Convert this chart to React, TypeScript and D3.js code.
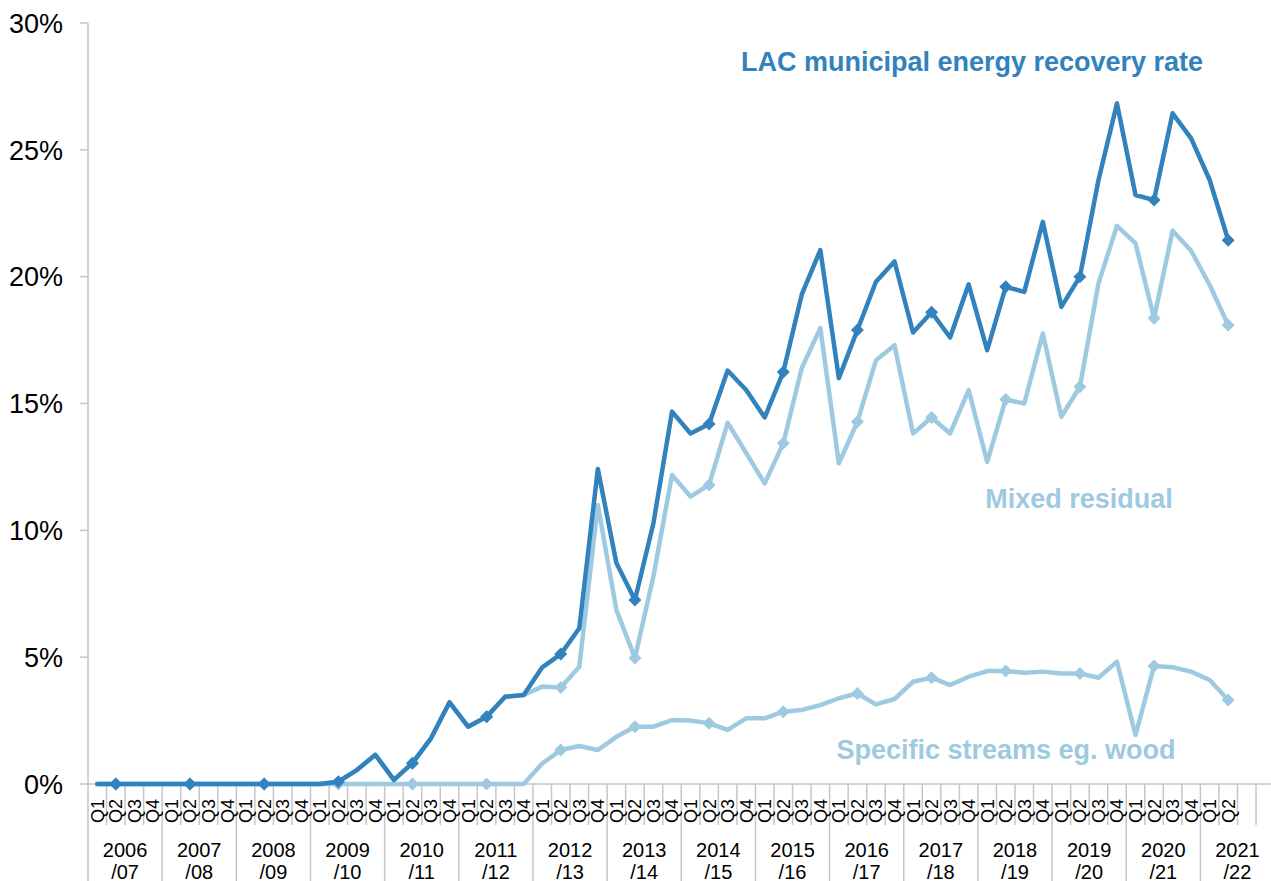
import React from "react";
import * as d3 from "d3";

const yearLabels: string[][] = [
  ["2006", "/07"], ["2007", "/08"], ["2008", "/09"], ["2009", "/10"],
  ["2010", "/11"], ["2011", "/12"], ["2012", "/13"], ["2013", "/14"],
  ["2014", "/15"], ["2015", "/16"], ["2016", "/17"], ["2017", "/18"],
  ["2018", "/19"], ["2019", "/20"], ["2020", "/21"], ["2021", "/22"],
];

const quarterLabels: string[] = [
  "Q1","Q2","Q3","Q4","Q1","Q2","Q3","Q4","Q1","Q2","Q3","Q4","Q1","Q2","Q3","Q4",
  "Q1","Q2","Q3","Q4","Q1","Q2","Q3","Q4","Q1","Q2","Q3","Q4","Q1","Q2","Q3","Q4",
  "Q1","Q2","Q3","Q4","Q1","Q2","Q3","Q4","Q1","Q2","Q3","Q4","Q1","Q2","Q3","Q4",
  "Q1","Q2","Q3","Q4","Q1","Q2","Q3","Q4","Q1","Q2","Q3","Q4","Q1","Q2","",""
];

// LAC municipal energy recovery rate (%)
const totalRate: number[] = [
  0, 0, 0, 0, 0, 0, 0, 0, 0, 0, 0, 0,
  0, 0.09, 0.55, 1.15, 0.16, 0.82, 1.8, 3.22, 2.26, 2.65, 3.44, 3.51,
  4.6, 5.12, 6.14, 12.42, 8.71, 7.25, 10.29, 14.68, 13.82, 14.19, 16.3, 15.53,
  14.45, 16.24, 19.3, 21.05, 16.0, 17.9, 19.8, 20.6, 17.8, 18.6, 17.6, 19.7,
  17.1, 19.6, 19.4, 22.16, 18.81, 20.0, 23.8, 26.83, 23.22, 23.02, 26.44, 25.45,
  23.81, 21.44,
];

// Mixed residual (%)
const mixedResidual: number[] = [
  0, 0, 0, 0, 0, 0, 0, 0, 0, 0, 0, 0,
  0, 0.09, 0.55, 1.15, 0.16, 0.82, 1.8, 3.22, 2.26, 2.65, 3.44, 3.51,
  3.84, 3.8, 4.62, 11.0, 6.86, 4.97, 8.2, 12.18, 11.33, 11.79, 14.24, 13.05,
  11.85, 13.43, 16.4, 17.97, 12.64, 14.28, 16.7, 17.3, 13.82, 14.45, 13.82, 15.53,
  12.7, 15.16, 15.0, 17.76, 14.48, 15.66, 19.73, 22.0, 21.31, 18.36, 21.81, 21.02,
  19.67, 18.09,
];

// Specific streams eg. wood (%)
const specificStreams: number[] = [
  0, 0, 0, 0, 0, 0, 0, 0, 0, 0, 0, 0,
  0, 0, 0, 0, 0, 0, 0, 0, 0, 0, 0, 0,
  0.81, 1.34, 1.5, 1.34, 1.86, 2.26, 2.26, 2.52, 2.5, 2.39, 2.13, 2.59,
  2.59, 2.85, 2.92, 3.11, 3.38, 3.57, 3.14, 3.35, 4.03, 4.19, 3.9, 4.23,
  4.45, 4.45, 4.39, 4.43, 4.36, 4.36, 4.19, 4.82, 1.93, 4.65, 4.6, 4.43,
  4.1, 3.31,
];

const yTicks: number[] = [0, 5, 10, 15, 20, 25, 30];

const W = 1271;
const H = 881;
const FONT = "'Liberation Sans', Arial, Helvetica, sans-serif";
const DARK = "#3182bd";
const LIGHT = "#9ecae1";
const GRID = "#c6c6c6";

export default function App() {
  const left = 88;
  const band = 18.54;
  const idx = d3.range(quarterLabels.length);
  const x = d3
    .scaleBand<number>()
    .domain(idx)
    .range([left, left + band * quarterLabels.length])
    .padding(0);
  const y = d3.scaleLinear().domain([0, 30]).range([784, 23]);
  const cx = (i: number) => (x(i) as number) + x.bandwidth() / 2;

  const line = d3
    .line<number>()
    .x((_, i) => cx(i))
    .y((d) => y(d));

  const axisY = y(0);
  const rangeEnd = x.range()[1];

  const series = [
    { data: specificStreams, color: LIGHT },
    { data: mixedResidual, color: LIGHT },
    { data: totalRate, color: DARK },
  ];

  const diamond = "M0,-6.5L6.5,0L0,6.5L-6.5,0Z";

  return (
    <svg
      width={W}
      height={H}
      style={{ position: "absolute", left: 0, top: 0, background: "#fff" }}
      fontFamily={FONT}
    >
      {/* y axis */}
      <line x1={left} x2={left} y1={y(30)} y2={H} stroke={GRID} strokeWidth={1.5} />
      {yTicks.map((t) => (
        <g key={t}>
          <line x1={left - 8} x2={left} y1={y(t)} y2={y(t)} stroke={GRID} strokeWidth={1.5} />
          <text
            x={63}
            y={y(t)}
            dy="0.36em"
            textAnchor="end"
            fontSize={27}
            fill="#000"
          >
            {t}%
          </text>
        </g>
      ))}
      {/* x axis */}
      <line x1={left} x2={rangeEnd} y1={axisY} y2={axisY} stroke={GRID} strokeWidth={1.5} />
      {d3.range(1, quarterLabels.length + 1).map((k) => {
        const bx = left + k * x.bandwidth();
        const isYear = k % 4 === 0;
        return (
          <line
            key={"t" + k}
            x1={bx}
            x2={bx}
            y1={axisY}
            y2={isYear ? H : 825}
            stroke={GRID}
            strokeWidth={1.5}
          />
        );
      })}
      {quarterLabels.map((q, i) => (
        <text
          key={"q" + i}
          transform={`translate(${cx(i)},799) rotate(-90)`}
          textAnchor="end"
          dy="0.36em"
          fontSize={18}
          fill="#000"
        >
          {q}
        </text>
      ))}
      {yearLabels.map((yl, j) => {
        const c = left + (j * 4 + 2) * x.bandwidth();
        return (
          <text key={"y" + j} textAnchor="middle" fontSize={20} fill="#000">
            <tspan x={c} y={857}>{yl[0]}</tspan>
            <tspan x={c} y={879}>{yl[1]}</tspan>
          </text>
        );
      })}
      {/* series */}
      {series.map((s, si) => (
        <g key={"s" + si}>
          <path
            d={line(s.data) || ""}
            fill="none"
            stroke={s.color}
            strokeWidth={4.5}
            strokeLinejoin="round"
            strokeLinecap="round"
          />
          {s.data.map((v, i) =>
            i % 4 === 1 ? (
              <path
                key={i}
                d={diamond}
                transform={`translate(${cx(i)},${y(v)})`}
                fill={s.color}
              />
            ) : null
          )}
        </g>
      ))}
      {/* annotations */}
      <text x={972} y={71} textAnchor="middle" fontSize={27} fontWeight="bold" fill={DARK}>
        LAC municipal energy recovery rate
      </text>
      <text x={1079} y={508} textAnchor="middle" fontSize={27} fontWeight="bold" fill={LIGHT}>
        Mixed residual
      </text>
      <text x={1006} y={759} textAnchor="middle" fontSize={27} fontWeight="bold" fill={LIGHT}>
        Specific streams eg. wood
      </text>
    </svg>
  );
}
